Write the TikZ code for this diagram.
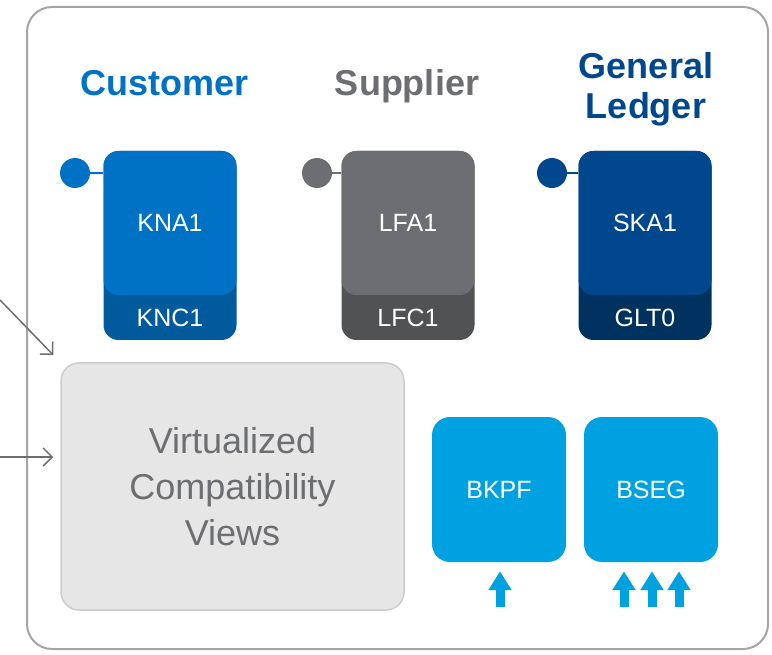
\documentclass[tikz,border=0pt]{standalone}
\usepackage{fontspec}
\setmainfont{Liberation Sans}
\usetikzlibrary{arrows.meta}

\definecolor{custblue}{HTML}{0072C6}
\definecolor{custdark}{HTML}{005A9C}
\definecolor{suppgray}{HTML}{6D6E71}
\definecolor{suppdark}{HTML}{515254}
\definecolor{glblue}{HTML}{00478D}
\definecolor{gldark}{HTML}{00325F}
\definecolor{docblue}{HTML}{00A1E0}
\definecolor{virtfill}{HTML}{E6E6E6}
\definecolor{virtline}{HTML}{CDCDCD}
\definecolor{textgray}{HTML}{6D6E71}
\definecolor{framegray}{HTML}{A5A5A5}

\begin{document}
\begin{tikzpicture}[x=1pt, y=-1pt, inner sep=0pt, text=white, font=\fontsize{25}{28}\selectfont]
    \tikzstyle{tabdark} = [rectangle, rounded corners=15pt, minimum width=133pt, minimum height=189pt]
    \tikzstyle{tabtop} = [rectangle, rounded corners=15pt, minimum width=133pt, minimum height=144pt]
    \tikzstyle{head} = [font=\bfseries\fontsize{36}{40}\selectfont, align=center]
    \tikzstyle{pin} = [circle, minimum size=30pt]
    \tikzstyle{doc} = [rectangle, rounded corners=18pt, fill=docblue, minimum width=134pt, minimum height=145pt]
    \tikzstyle{up} = [docblue, line width=9pt, -{Triangle[width=22pt,length=19pt]}]
    \tikzstyle{feed} = [textgray, line width=1.5pt, -{Straight Barb[length=9pt,width=18pt]}]

    \useasboundingbox (0,0) rectangle (772,655);
    \draw [framegray, line width=2pt, rounded corners=25pt] (27,7) rectangle (768,649);

    \node (cust) at (165,96) [head, anchor=base, text=custblue] {Customer};
    \node (supp) at (407,96) [head, anchor=base, text=suppgray] {Supplier};
    \node (gl) at (646,89) [head, text=glblue] {General\\Ledger};

    \node (kn) at (170,245.5) [tabdark, fill=custdark] {};
    \node (kna) at (170,223) [tabtop, fill=custblue] {KNA1};
    \node (knc) at (170,318) {KNC1};
    \node (kp) at (75,173) [pin, fill=custblue] {};

    \node (lf) at (408,245.5) [tabdark, fill=suppdark] {};
    \node (lfa) at (408,223) [tabtop, fill=suppgray] {LFA1};
    \node (lfc) at (408,318) {LFC1};
    \node (lp) at (317,173) [pin, fill=suppgray] {};

    \node (sk) at (645,245.5) [tabdark, fill=gldark] {};
    \node (ska) at (645,223) [tabtop, fill=glblue] {SKA1};
    \node (glt) at (645,318) {GLT0};
    \node (sp) at (552,173) [pin, fill=glblue] {};

    \draw [custblue, line width=2pt] (kp) -- (kp -| kna.west);
    \draw [suppgray, line width=2pt] (lp) -- (lp -| lfa.west);
    \draw [glblue, line width=2pt] (sp) -- (sp -| ska.west);

    \node (v) at (232.5,486.5) [rectangle, rounded corners=18pt, fill=virtfill, draw=virtline, line width=1.5pt, minimum width=343pt, minimum height=247pt, text=textgray, font=\fontsize{36}{46}\selectfont, align=center] {Virtualized\\Compatibility\\Views};

    \node (bk) at (499,489.5) [doc] {BKPF};
    \node (bs) at (651,489.5) [doc] {BSEG};

    \coordinate (a1) at (500,607);
    \coordinate (a2) at (624,607);
    \coordinate (a3) at (652,607);
    \coordinate (a4) at (679,607);

    \draw [up, shorten >=9pt] (a1) -- (a1 |- bk.south);
    \draw [up, shorten >=9pt] (a2) -- (a2 |- bs.south);
    \draw [up, shorten >=9pt] (a3) -- (a3 |- bs.south);
    \draw [up, shorten >=9pt] (a4) -- (a4 |- bs.south);

    \coordinate (in1) at (0,300);
    \coordinate (in2) at (0,457);

    \draw [feed, shorten >=10pt] (in1) -- (v.north west);
    \draw [feed, shorten >=7pt] (in2) -- (in2 -| v.west);
\end{tikzpicture}
\end{document}
